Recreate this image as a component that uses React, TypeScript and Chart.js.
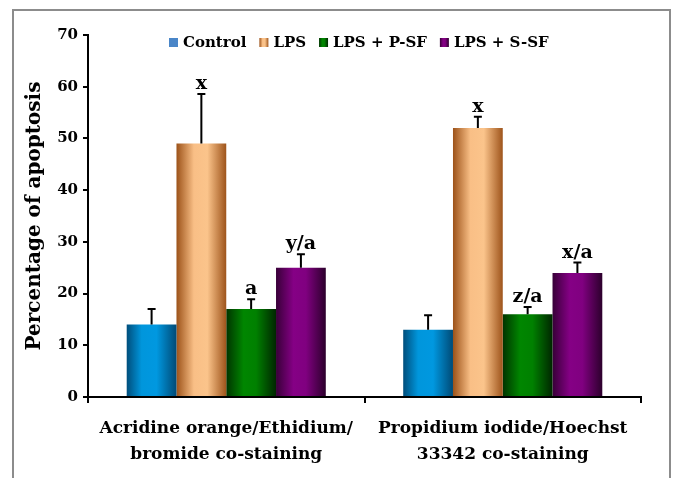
import React, { useEffect, useRef } from 'react';
import { Chart, registerables } from 'chart.js';

Chart.register(...registerables);

const categories = [
  ['Acridine orange/Ethidium/', 'bromide co-staining'],
  ['Propidium iodide/Hoechst', '33342 co-staining'],
];
const seriesNames = ['Control', 'LPS', 'LPS + P-SF', 'LPS + S-SF'];
const controlValues = [14, 13];
const lpsValues = [49, 52];
const psfValues = [17, 16];
const ssfValues = [25, 24];
const controlErrors = [3, 2.8];
const lpsErrors = [9.6, 2.2];
const psfErrors = [1.9, 1.4];
const ssfErrors = [2.6, 2.0];
const controlLetters = ['', ''];
const lpsLetters = ['x', 'x'];
const psfLetters = ['a', 'z/a'];
const ssfLetters = ['y/a', 'x/a'];
const yTicks = [0, 10, 20, 30, 40, 50, 60, 70];

const seriesValues = [controlValues, lpsValues, psfValues, ssfValues];
const seriesErrors = [controlErrors, lpsErrors, psfErrors, ssfErrors];
const seriesLetters = [controlLetters, lpsLetters, psfLetters, ssfLetters];

const FONT = '"DejaVu Serif", "Liberation Serif", serif';

const gradientStops: [number, string][][] = [
  [[0, '#004e7c'], [0.3, '#0096dc'], [0.6, '#0098e0'], [1, '#004a76']],
  [[0, '#9c5219'], [0.35, '#f9bf86'], [0.62, '#fbc48b'], [1, '#9e541b']],
  [[0, '#003400'], [0.35, '#008600'], [0.6, '#008000'], [1, '#002600']],
  [[0, '#380038'], [0.35, '#850085'], [0.6, '#800080'], [1, '#2c002c']],
];
const legendColors = ['#4a86c8', '#e3a264', '#006a00', '#720072'];

const CAT_PCT = 0.72;

function makeGradient(ctx: any, chart: any, di: number, j: number) {
  const xs = chart.scales && chart.scales.x;
  if (!xs || xs.width === undefined) return legendColors[di];
  const catW = xs.width / categories.length;
  const groupW = catW * CAT_PCT;
  const barW = groupW / seriesNames.length;
  const center = xs.getPixelForValue(j);
  const left = center - groupW / 2 + di * barW;
  if (!isFinite(left)) return legendColors[di];
  const g = ctx.createLinearGradient(left, 0, left + barW, 0);
  gradientStops[di].forEach(([o, c]) => g.addColorStop(o, c));
  return g;
}

const framePlugin = {
  id: 'frame',
  beforeDraw(chart: any) {
    const { ctx, width, height } = chart;
    ctx.save();
    ctx.fillStyle = '#ffffff';
    ctx.fillRect(0, 0, width, height);
    ctx.strokeStyle = '#8c8c8c';
    ctx.lineWidth = 2;
    ctx.beginPath();
    ctx.moveTo(13, height);
    ctx.lineTo(13, 10);
    ctx.lineTo(670, 10);
    ctx.lineTo(670, height);
    ctx.stroke();
    ctx.restore();
  },
};

const errorPlugin = {
  id: 'errors',
  afterDatasetsDraw(chart: any) {
    const { ctx } = chart;
    const ys = chart.scales.y;
    ctx.save();
    ctx.strokeStyle = '#000';
    ctx.lineWidth = 2;
    ctx.fillStyle = '#000';
    ctx.font = `bold 19px ${FONT}`;
    ctx.textAlign = 'center';
    ctx.textBaseline = 'alphabetic';
    seriesValues.forEach((vals, di) => {
      const meta = chart.getDatasetMeta(di);
      meta.data.forEach((el: any, j: number) => {
        const v = vals[j];
        const e = seriesErrors[di][j];
        const yBar = ys.getPixelForValue(v);
        const yTop = ys.getPixelForValue(v + e);
        ctx.beginPath();
        ctx.moveTo(el.x, yBar);
        ctx.lineTo(el.x, yTop);
        ctx.moveTo(el.x - 4, yTop);
        ctx.lineTo(el.x + 4, yTop);
        ctx.stroke();
        const letter = seriesLetters[di][j];
        if (letter) ctx.fillText(letter, el.x, yTop - 5);
      });
    });
    ctx.restore();
  },
};

const legendPlugin = {
  id: 'customLegend',
  afterDraw(chart: any) {
    const { ctx } = chart;
    ctx.save();
    ctx.font = `bold 15px ${FONT}`;
    ctx.textBaseline = 'middle';
    ctx.textAlign = 'left';
    let x = 169;
    const y = 43;
    seriesNames.forEach((name, i) => {
      const g = ctx.createLinearGradient(x, 0, x + 9, 0);
      gradientStops[i].forEach(([o, c]) => g.addColorStop(o, c));
      ctx.fillStyle = i === 0 ? legendColors[0] : g;
      ctx.fillRect(x, y - 5, 9, 9);
      ctx.fillStyle = '#000';
      ctx.fillText(name, x + 14, y);
      x += 14 + ctx.measureText(name).width + 13;
    });
    ctx.restore();
  },
};

export default function App() {
  const ref = useRef<HTMLCanvasElement>(null);
  useEffect(() => {
    const canvas = ref.current;
    if (!canvas) return;
    const chart = new Chart(canvas, {
      type: 'bar',
      data: {
        labels: categories as any,
        datasets: seriesNames.map((name, di) => ({
          label: name,
          data: seriesValues[di],
          backgroundColor: (c: any) => makeGradient(c.chart.ctx, c.chart, di, c.dataIndex),
          borderWidth: 0,
          categoryPercentage: CAT_PCT,
          barPercentage: 1,
        })),
      },
      options: {
        responsive: false,
        animation: false,
        devicePixelRatio: 1,
        layout: { padding: { top: 35, right: 35, left: 0, bottom: 0 } },
        plugins: {
          legend: { display: false },
          tooltip: { enabled: false },
        },
        scales: {
          x: {
            afterFit: (s: any) => { s.height = 81; },
            grid: {
              display: true,
              offset: true,
              drawOnChartArea: false,
              drawTicks: true,
              tickLength: 6,
              color: '#000',
              lineWidth: 2,
            },
            border: { display: true, color: '#000', width: 2 },
            ticks: {
              color: '#000',
              font: { family: FONT, weight: 'bold', size: 17, lineHeight: 1.55 },
              padding: 12,
              maxRotation: 0,
              autoSkip: false,
            },
          },
          y: {
            afterFit: (s: any) => { s.width = 88; },
            min: 0,
            max: 70,
            afterBuildTicks: (s: any) => { s.ticks = yTicks.map((v) => ({ value: v })); },
            grid: {
              display: true,
              drawOnChartArea: false,
              drawTicks: true,
              tickLength: 5,
              color: '#000',
              lineWidth: 2,
            },
            border: { display: true, color: '#000', width: 2 },
            ticks: {
              color: '#000',
              font: { family: FONT, weight: 'bold', size: 15 },
              padding: 5,
            },
            title: {
              display: true,
              text: 'Percentage of apoptosis',
              color: '#000',
              font: { family: FONT, weight: 'bold', size: 20 },
              padding: { top: 23, bottom: 0 },
            },
          },
        },
      },
      plugins: [framePlugin, errorPlugin, legendPlugin],
    } as any);
    return () => chart.destroy();
  }, []);
  return (
    <div style={{ position: 'absolute', left: 0, top: 0, width: 676, height: 478 }}>
      <canvas ref={ref} width={676} height={478} style={{ display: 'block' }} />
    </div>
  );
}
